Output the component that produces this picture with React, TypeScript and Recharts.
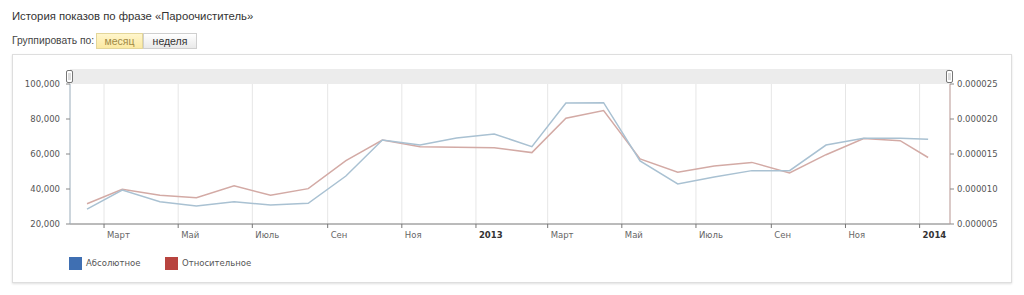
import React from 'react';
import { LineChart, Line, XAxis, YAxis, CartesianGrid } from 'recharts';

// middle of each reporting period (last one is a partial month)
const periods = [
  '2012-02-16', '2012-03-16', '2012-04-16', '2012-05-16', '2012-06-16', '2012-07-16',
  '2012-08-16', '2012-09-16', '2012-10-16', '2012-11-16', '2012-12-16', '2013-01-16',
  '2013-02-16', '2013-03-16', '2013-04-16', '2013-05-16', '2013-06-16', '2013-07-16',
  '2013-08-16', '2013-09-16', '2013-10-16', '2013-11-16', '2013-12-16', '2014-01-08',
];
const absolute = [
  28500, 39400, 32700, 30300, 32700, 30900, 31800, 47400, 68000, 65100, 69100, 71400,
  64200, 89100, 89300, 56000, 42900, 46900, 50500, 50500, 65100, 69000, 69000, 68400,
];
const relative = [
  7.9e-6, 9.95e-6, 9.1e-6, 8.75e-6, 10.45e-6, 9.1e-6, 10.05e-6, 14.05e-6, 17.0e-6, 16.05e-6, 15.95e-6, 15.9e-6,
  15.2e-6, 20.1e-6, 21.2e-6, 14.3e-6, 12.4e-6, 13.3e-6, 13.8e-6, 12.3e-6, 14.9e-6, 17.2e-6, 16.9e-6, 14.5e-6,
];
const monthNames = ['Янв', 'Фев', 'Март', 'Апр', 'Май', 'Июнь', 'Июль', 'Авг', 'Сен', 'Окт', 'Ноя', 'Дек'];
const xTickDates = [
  '2012-03-01', '2012-05-01', '2012-07-01', '2012-09-01', '2012-11-01', '2013-01-01',
  '2013-03-01', '2013-05-01', '2013-07-01', '2013-09-01', '2013-11-01', '2014-01-01',
];
const absTicks = [20000, 40000, 60000, 80000, 100000];
const relTicks = [0.000005, 0.00001, 0.000015, 0.00002, 0.000025];

const toTime = (s: string) => {
  const [y, m, d] = s.split('-').map(Number);
  return Date.UTC(y, m - 1, d);
};

const data = periods.map((p, i) => ({ t: toTime(p), abs: absolute[i], rel: relative[i] }));
const xTicks = xTickDates.map(toTime);

const FONT = '"DejaVu Sans", Verdana, sans-serif';

const MonthTick = (props: any) => {
  const { x, y, payload } = props;
  const d = new Date(payload.value);
  const m = d.getUTCMonth();
  const isYear = m === 0;
  return (
    <text
      x={x + 3}
      y={y + 8}
      fontSize={8.5}
      fontFamily={FONT}
      fill={isYear ? '#333' : '#666'}
      fontWeight={isYear ? 'bold' : 'normal'}
      textAnchor="start"
    >
      {isYear ? d.getUTCFullYear() : monthNames[m]}
    </text>
  );
};

const Handle = ({ left }: { left: number }) => (
  <div style={{
    position: 'absolute', left, top: 70, width: 5, height: 11,
    border: '1.5px solid #777', borderRadius: 2, background: '#fff',
  }}>
    <div style={{ position: 'absolute', left: 1, top: 2, width: 3, height: 7, background: '#ddd' }} />
  </div>
);

export default function App() {
  return (
    <div style={{ position: 'fixed', left: 0, top: 0, width: 1024, height: 295, background: '#fff', overflow: 'hidden', fontFamily: '"Liberation Sans", Arial, sans-serif' }}>
      <div style={{ position: 'absolute', left: 12, top: 10, fontSize: 11.3, color: '#333' }}>
        История показов по фразе «Пароочиститель»
      </div>
      <div style={{ position: 'absolute', left: 12, top: 35, fontSize: 10.3, color: '#444' }}>
        Группировать по:
      </div>
      <div style={{
        position: 'absolute', left: 96, top: 33, width: 47, height: 16, boxSizing: 'border-box',
        border: '1px solid #e3d69a', background: 'linear-gradient(#fff6cc, #fbe9a3)',
        fontSize: 10.5, color: '#a08a45', textAlign: 'center', lineHeight: '14px',
      }}>
        месяц
      </div>
      <div style={{
        position: 'absolute', left: 143, top: 33, width: 54, height: 16, boxSizing: 'border-box',
        border: '1px solid #cfcfcf', background: 'linear-gradient(#ffffff, #e9e9e9)',
        fontSize: 10.5, color: '#333', textAlign: 'center', lineHeight: '14px',
      }}>
        неделя
      </div>

      <div style={{
        position: 'absolute', left: 12, top: 54, width: 1000, height: 229, boxSizing: 'border-box',
        border: '1px solid #dedede', boxShadow: '0 1px 2px rgba(0,0,0,0.12)',
      }} />

      <div style={{ position: 'absolute', left: 0, top: 0 }}>
        <LineChart width={1024} height={295} data={data} margin={{ top: 84, right: 0, bottom: 51, left: 0 }}>
          <CartesianGrid horizontal={false} stroke="#e6e6e6" />
          <XAxis
            dataKey="t"
            type="number"
            domain={[toTime('2012-02-02'), toTime('2014-01-26')]}
            ticks={xTicks}
            interval={0}
            allowDataOverflow
            height={20}
            axisLine={{ stroke: '#777' }}
            tickLine={{ stroke: '#777' }}
            tickSize={4}
            tick={<MonthTick />}
          />
          <YAxis
            yAxisId="abs"
            orientation="left"
            width={70}
            domain={[20000, 100000]}
            ticks={absTicks}
            interval={0}
            allowDataOverflow
            axisLine={{ stroke: '#a6b8c6' }}
            tickLine={{ stroke: '#888' }}
            tickSize={4}
            tickMargin={6}
            tick={{ fontSize: 8.5, fill: '#555', fontFamily: FONT }}
            tickFormatter={(v: number) => v.toLocaleString('en-US')}
          />
          <YAxis
            yAxisId="rel"
            orientation="right"
            width={74}
            domain={[0.000005, 0.000025]}
            ticks={relTicks}
            interval={0}
            allowDataOverflow
            axisLine={{ stroke: '#c3a19d' }}
            tickLine={{ stroke: '#888' }}
            tickSize={4}
            tickMargin={3}
            tick={{ fontSize: 8.5, fill: '#555', fontFamily: FONT }}
            tickFormatter={(v: number) => v.toFixed(6)}
          />
          <Line yAxisId="rel" dataKey="rel" type="linear" stroke="#d3aaa5" strokeWidth={1.5} dot={false} isAnimationActive={false} />
          <Line yAxisId="abs" dataKey="abs" type="linear" stroke="#a9c1d2" strokeWidth={1.5} dot={false} isAnimationActive={false} />
        </LineChart>
      </div>

      <div style={{ position: 'absolute', left: 70, top: 69, width: 880, height: 15, background: '#ececec' }} />
      <Handle left={66} />
      <Handle left={946} />

      <div style={{ position: 'absolute', left: 69, top: 257, width: 13, height: 13, background: '#3f6fb2' }} />
      <div style={{ position: 'absolute', left: 86, top: 258, fontSize: 8.5, fontFamily: FONT, color: '#555' }}>Абсолютное</div>
      <div style={{ position: 'absolute', left: 165, top: 257, width: 13, height: 13, background: '#b8443f' }} />
      <div style={{ position: 'absolute', left: 182, top: 258, fontSize: 8.5, fontFamily: FONT, color: '#555' }}>Относительное</div>
    </div>
  );
}
